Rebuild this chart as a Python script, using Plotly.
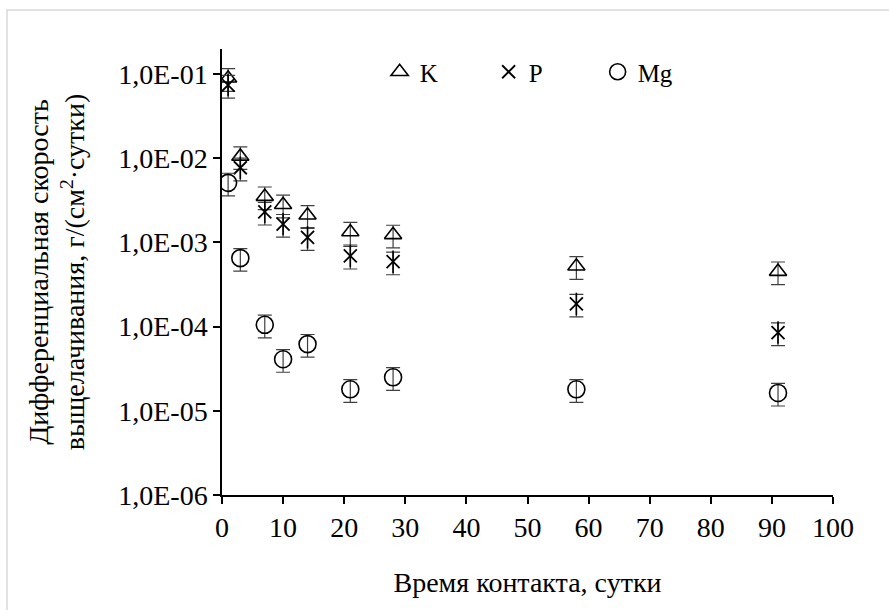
import plotly.graph_objects as go

days = [1, 3, 7, 10, 14, 21, 28, 58, 91]
k_vals = [0.089, 0.0105, 0.0035, 0.0028, 0.0021, 0.00133, 0.00123, 0.00052, 0.00045]
p_vals = [0.074, 0.0077, 0.0023, 0.00165, 0.00115, 0.00069, 0.00059, 0.000186, 0.000085]
mg_vals = [0.0051, 0.00065, 0.000105, 0.000041, 0.000062, 0.000018, 0.000025, 0.000018, 0.0000163]
err_pct = 30

y_tickvals = [1e-6, 1e-5, 1e-4, 1e-3, 1e-2, 1e-1]
y_ticktext = ["1,0E-06", "1,0E-05", "1,0E-04", "1,0E-03", "1,0E-02", "1,0E-01"]

FONT = "Liberation Serif"
FS = 28
err = dict(type="percent", value=err_pct, color="#404040", thickness=1.2, width=7)

fig = go.Figure()
fig.add_trace(go.Scatter(x=days, y=k_vals, mode="markers", name="K",
                         marker=dict(symbol="triangle-up-open", size=15, color="black",
                                     line=dict(color="black", width=1.6)),
                         error_y=err))
fig.add_trace(go.Scatter(x=days, y=p_vals, mode="markers", name="P",
                         marker=dict(symbol="x-thin-open", size=13, color="black",
                                     line=dict(color="black", width=1.8)),
                         error_y=err))
fig.add_trace(go.Scatter(x=days, y=p_vals, mode="markers", name="P", showlegend=False,
                         marker=dict(symbol="line-ns-open", size=16, color="black",
                                     line=dict(color="black", width=1.6))))
fig.add_trace(go.Scatter(x=days, y=mg_vals, mode="markers", name="Mg",
                         marker=dict(symbol="circle-open", size=17, color="black",
                                     line=dict(color="black", width=1.6)),
                         error_y=err))

L, R, T, B = 222, 56, 49, 115
W, H = 889, 610
pw, ph = W - L - R, H - T - B

def px_x(p):
    return (p - L) / pw

def px_y(p):
    return (H - B - p) / ph

fig.add_shape(type="rect", xref="paper", yref="paper",
              x0=px_x(7), x1=px_x(900), y0=px_y(10), y1=px_y(620),
              line=dict(color="#d9d9d9", width=1.5), fillcolor="rgba(0,0,0,0)")

fig.update_layout(
    width=W, height=H,
    margin=dict(l=L, r=R, t=T, b=B),
    paper_bgcolor="white", plot_bgcolor="white",
    font=dict(family=FONT, size=FS, color="black"),
    showlegend=True,
    legend=dict(orientation="h", x=0.258, y=1.0, xanchor="left", yanchor="top",
                font=dict(family=FONT, size=25, color="black"),
                entrywidth=64, entrywidthmode="pixels",
                bgcolor="rgba(0,0,0,0)", itemclick=False),
    xaxis=dict(range=[0, 100], dtick=10, tick0=0, showgrid=False, zeroline=False,
               showline=True, linecolor="black", linewidth=1.5,
               ticks="outside", ticklen=7, tickcolor="black", tickwidth=1.5,
               tickfont=dict(family=FONT, size=FS),
               title=dict(text="Время контакта, сутки", font=dict(family=FONT, size=FS),
                          standoff=30)),
    yaxis=dict(type="log", range=[-6, -0.703], showgrid=False, zeroline=False,
               tickvals=y_tickvals, ticktext=y_ticktext,
               showline=True, linecolor="black", linewidth=1.5,
               ticks="outside", ticklen=7, tickcolor="black", tickwidth=1.5,
               tickfont=dict(family=FONT, size=FS),
               title=dict(text="Дифференциальная скорость<br>выщелачивания, г/(см<sup>2</sup>·сутки)",
                          font=dict(family=FONT, size=FS), standoff=25)),
)

fig.write_html("out.html")
